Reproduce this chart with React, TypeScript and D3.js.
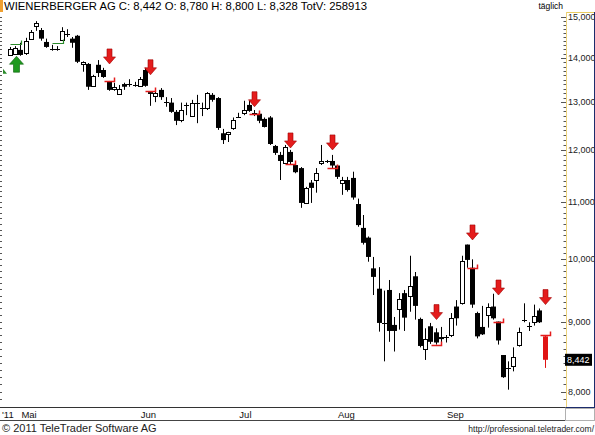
import * as d3 from 'd3';
import React, { useEffect, useRef } from 'react';

const title = 'WIENERBERGER AG C: 8,442 O: 8,780 H: 8,800 L: 8,328 TotV: 258913';
const period = 'täglich';
const yearLabel = "'11";
const copyright = '© 2011 TeleTrader Software AG';
const url = 'http://professional.teletrader.com/';

// daily candles [open, high, low, close]
const ohlc: [number, number, number, number][] = [
    [14.07, 14.26, 14.05, 14.21], [14.09, 14.28, 14.07, 14.24], [14.19, 14.36, 14.05, 14.07], [14.12, 14.48, 14.07, 14.41],
    [14.46, 14.67, 14.43, 14.62], [14.77, 14.89, 14.65, 14.84], [14.67, 14.72, 14.41, 14.46], [14.38, 14.46, 14.24, 14.26],
    [14.19, 14.31, 14.17, 14.21], [14.19, 14.28, 14.17, 14.20], [14.43, 14.74, 14.41, 14.65], [14.57, 14.69, 14.50, 14.58],
    [14.46, 14.50, 14.24, 14.36], [14.53, 14.55, 13.88, 13.91], [13.86, 13.92, 13.68, 13.91], [13.86, 13.88, 13.27, 13.34],
    [13.36, 13.61, 13.34, 13.58], [13.84, 13.95, 13.56, 13.65], [13.72, 13.77, 13.54, 13.56], [13.45, 13.47, 13.25, 13.27],
    [13.29, 13.43, 13.25, 13.34], [13.18, 13.38, 13.16, 13.29], [13.40, 13.43, 13.27, 13.34], [13.40, 13.51, 13.34, 13.41],
    [13.38, 13.45, 13.34, 13.38], [13.36, 13.56, 13.34, 13.51], [13.72, 13.77, 13.34, 13.36], [13.22, 13.24, 12.92, 13.18],
    [13.14, 13.27, 13.00, 13.20], [13.27, 13.31, 13.05, 13.11], [13.01, 13.11, 12.90, 13.00], [12.99, 13.09, 12.77, 12.79],
    [12.79, 12.83, 12.51, 12.60], [12.62, 12.99, 12.57, 12.83], [12.93, 12.99, 12.72, 12.94], [12.70, 13.05, 12.68, 12.99],
    [13.00, 13.16, 12.55, 12.98], [12.88, 12.99, 12.70, 12.88], [12.87, 13.22, 12.83, 13.20], [13.16, 13.20, 13.01, 13.05],
    [13.09, 13.11, 12.41, 12.45], [12.34, 12.43, 12.12, 12.20], [12.31, 12.37, 12.16, 12.36], [12.46, 12.67, 12.41, 12.62],
    [12.68, 12.77, 12.67, 12.69], [12.77, 13.03, 12.72, 12.83], [12.94, 13.03, 12.79, 12.81], [12.75, 12.83, 12.70, 12.77],
    [12.75, 12.81, 12.55, 12.60], [12.64, 12.67, 12.46, 12.47], [12.67, 12.70, 12.10, 12.12], [12.08, 12.10, 11.90, 11.94],
    [11.90, 11.96, 11.41, 11.78], [11.74, 12.10, 11.72, 12.06], [11.96, 12.00, 11.72, 11.76], [11.70, 11.74, 11.54, 11.56],
    [11.64, 11.66, 10.89, 10.98], [10.98, 11.28, 10.96, 11.26], [11.36, 11.41, 10.98, 11.26], [11.41, 11.64, 11.17, 11.55],
    [11.74, 12.10, 11.70, 11.77], [11.76, 11.80, 11.74, 11.78], [11.78, 11.90, 11.64, 11.69], [11.69, 11.70, 11.43, 11.47],
    [11.35, 11.47, 11.13, 11.41], [11.41, 11.47, 11.19, 11.22], [11.45, 11.57, 11.04, 11.08], [10.96, 11.06, 10.55, 10.58],
    [10.53, 10.76, 10.24, 10.27], [10.36, 10.38, 9.95, 10.03], [9.84, 10.03, 9.41, 9.70], [9.51, 9.86, 8.85, 8.98],
    [8.99, 9.48, 8.42, 8.98], [9.49, 9.65, 8.70, 8.86], [8.95, 9.07, 8.56, 8.86], [9.20, 9.44, 8.88, 9.35],
    [9.44, 9.49, 8.86, 9.06], [9.39, 10.05, 9.15, 9.55], [9.71, 9.78, 9.03, 9.24], [9.04, 9.06, 8.62, 8.64],
    [8.59, 8.90, 8.44, 8.74], [8.93, 8.98, 8.67, 8.70], [8.84, 8.90, 8.66, 8.69], [8.77, 8.92, 8.69, 8.74],
    [8.79, 8.80, 8.69, 8.77], [8.80, 9.13, 8.77, 9.06], [9.23, 9.33, 8.94, 9.05], [9.29, 10.05, 9.26, 9.97],
    [10.24, 10.24, 9.85, 9.98], [9.85, 9.99, 9.21, 9.26], [9.13, 9.15, 8.75, 8.78], [8.92, 9.24, 8.80, 8.81],
    [9.10, 9.28, 8.91, 9.22], [9.23, 9.43, 9.03, 9.05], [9.00, 9.00, 8.66, 8.72], [8.51, 8.51, 8.19, 8.20],
    [8.30, 8.42, 8.03, 8.32], [8.36, 8.62, 8.28, 8.48], [8.66, 8.91, 8.63, 8.85], [9.01, 9.28, 8.99, 9.02],
    [8.94, 8.99, 8.86, 8.93], [8.99, 9.26, 8.94, 9.08], [9.17, 9.20, 8.98, 8.99], [8.78, 8.80, 8.328, 8.442],
];

const lastClose = 8.442;
const yTicks = [8, 9, 10, 11, 12, 13, 14, 15];

const months = [
    { label: 'Mai', idx: 2 },
    { label: 'Jun', idx: 25 },
    { label: 'Jul', idx: 44 },
    { label: 'Aug', idx: 63 },
    { label: 'Sep', idx: 84 },
];

// sell signals: arrow tip price and stop line level
const sellSignals = [
    { idx: 19, tip: 13.86, level: 13.47 },
    { idx: 27, tip: 13.61, level: 13.24 },
    { idx: 47, tip: 12.9, level: 12.75 },
    { idx: 54, tip: 12.04, level: 11.72 },
    { idx: 62, tip: 12.0, level: 11.64 },
    { idx: 82, tip: 9.03, level: 8.66 },
    { idx: 89, tip: 10.32, level: 9.85 },
    { idx: 94, tip: 9.41, level: 9.0 },
    { idx: 103, tip: 9.26, level: 8.8 },
];

const buySignals = [{ idx: 1, tip: 14.04 }];
const buyLines = [
    { idx: 1, level: 14.33 },
    { idx: 9, level: 14.36 },
];
const entryMarker = 13.68;

const App: React.FC = () => {
    const svgRef = useRef<SVGSVGElement | null>(null);

    useEffect(() => {
        const plot = { left: 0, right: 565, top: 12, bottom: 407 };
        const font = '"Liberation Sans", Arial, sans-serif';

        const svg = d3.select(svgRef.current).html('');

        const x = d3.scaleLinear().domain([0, ohlc.length - 1]).range([10, 544.6]);
        const y = d3.scaleLog().domain([7.8, 15.12]).range([plot.bottom, plot.top]);
        const fmt = d3.formatLocale({ decimal: ',', thousands: '.', grouping: [3], currency: ['', ''] }).format('.3f');

        svg.append('rect').attr('width', 595).attr('height', 435).attr('fill', '#fff');

        // header
        svg.append('rect').attr('x', 0).attr('y', 0).attr('width', 3).attr('height', 12).attr('fill', '#f0a030');
        svg.append('text').attr('x', 4).attr('y', 10).attr('font-family', font).attr('font-size', 11.3)
            .attr('fill', '#000').text(title);
        svg.append('text').attr('x', 563).attr('y', 9).attr('text-anchor', 'end').attr('font-family', font)
            .attr('font-size', 8.5).attr('fill', '#000').text(period);

        // right axis panel
        const minor = d3.range(79, 152).map((v) => v / 10).filter((v) => y(v) > 13 && y(v) < 406);
        svg.append('line').attr('x1', 566).attr('x2', 595).attr('y1', 12.5).attr('y2', 12.5).attr('stroke', '#e8cc60');
        svg.append('line').attr('x1', 566.5).attr('x2', 566.5).attr('y1', 12).attr('y2', 407)
            .attr('stroke', '#ecd27a');
        svg.append('g').selectAll('line').data(minor).join('line')
            .attr('x1', (d) => (yTicks.includes(d) ? 561 : 563.5)).attr('x2', 566)
            .attr('y1', (d) => Math.round(y(d)) + 0.5).attr('y2', (d) => Math.round(y(d)) + 0.5)
            .attr('stroke', '#555');
        svg.append('g').selectAll('line').data(minor).join('line')
            .attr('x1', 0).attr('x2', 2)
            .attr('y1', (d) => Math.round(y(d)) + 0.5).attr('y2', (d) => Math.round(y(d)) + 0.5)
            .attr('stroke', '#555');
        svg.append('g').selectAll('text').data(yTicks).join('text')
            .attr('x', 568).attr('y', (d) => y(d)).attr('dy', '0.35em')
            .attr('font-family', font).attr('font-size', 9).attr('fill', '#222').text((d) => fmt(d));
        svg.append('line').attr('x1', 594.5).attr('x2', 594.5).attr('y1', 12).attr('y2', 408).attr('stroke', '#1c2c6c');
        svg.append('line').attr('x1', 565).attr('x2', 595).attr('y1', 407.5).attr('y2', 407.5).attr('stroke', '#1c2c6c');

        // last price box
        svg.append('rect').attr('x', 565).attr('y', y(lastClose) - 6).attr('width', 27).attr('height', 12).attr('fill', '#000');
        svg.append('text').attr('x', 567).attr('y', y(lastClose)).attr('dy', '0.35em').attr('font-family', font)
            .attr('font-size', 9).attr('fill', '#fff').text(fmt(lastClose));

        // date axis row
        svg.append('line').attr('x1', 0).attr('x2', 565).attr('y1', 407.5).attr('y2', 407.5).attr('stroke', '#333');
        svg.append('line').attr('x1', 0).attr('x2', 565).attr('y1', 420.5).attr('y2', 420.5).attr('stroke', '#444');
        svg.append('line').attr('x1', 565.5).attr('x2', 565.5).attr('y1', 407).attr('y2', 421).attr('stroke', '#666');
        svg.append('rect').attr('x', 565.5).attr('y', 408.5).attr('width', 29).attr('height', 12)
            .attr('fill', 'none').attr('stroke', '#b0b0b0');
        svg.append('text').attr('x', 2).attr('y', 417.5).attr('font-family', font).attr('font-size', 9.5)
            .attr('fill', '#111').text(yearLabel);
        svg.append('g').selectAll('text').data(months).join('text')
            .attr('x', (d) => x(d.idx) + 1).attr('y', 417.5).attr('font-family', font).attr('font-size', 9.5)
            .attr('fill', '#111').text((d) => d.label);

        // footer
        svg.append('text').attr('x', 2).attr('y', 432).attr('font-family', font).attr('font-size', 11)
            .attr('fill', '#222').text(copyright);
        svg.append('text').attr('x', 594).attr('y', 432).attr('text-anchor', 'end').attr('font-family', font)
            .attr('font-size', 8.5).attr('fill', '#222').text(url);

        // candles
        const cg = svg.append('g');
        ohlc.forEach(([o, h, l, c], i) => {
            const px = Math.round(x(i));
            const col = i === ohlc.length - 1 ? '#e01414' : '#000';
            cg.append('line').attr('x1', px + 0.5).attr('x2', px + 0.5).attr('y1', y(h)).attr('y2', y(l))
                .attr('stroke', col);
            const top = y(Math.max(o, c));
            const bot = y(Math.min(o, c));
            if (bot - top < 1.5) {
                cg.append('line').attr('x1', px - 2).attr('x2', px + 3)
                    .attr('y1', Math.round(y(c)) + 0.5).attr('y2', Math.round(y(c)) + 0.5).attr('stroke', col);
            } else if (c > o) {
                cg.append('rect').attr('x', px - 1.5).attr('y', Math.round(top) + 0.5).attr('width', 4)
                    .attr('height', Math.max(1, Math.round(bot - top))).attr('fill', '#fff').attr('stroke', col);
            } else {
                cg.append('rect').attr('x', px - 2).attr('y', top).attr('width', 5).attr('height', bot - top)
                    .attr('fill', col);
            }
        });

        // sell signals
        const sg = svg.append('g');
        sellSignals.forEach((s) => {
            const cx = Math.round(x(s.idx)) + 0.5;
            const t = y(s.tip);
            sg.append('path')
                .attr('d', `M${cx},${t} L${cx - 6},${t - 7} L${cx - 2.5},${t - 7} L${cx - 2.5},${t - 15} L${cx + 2.5},${t - 15} L${cx + 2.5},${t - 7} L${cx + 6},${t - 7} Z`)
                .attr('fill', '#e41c1c').attr('stroke', '#a00000').attr('stroke-width', 0.6);
            const ly = Math.round(y(s.level)) + 0.5;
            sg.append('path').attr('d', `M${cx - 5},${ly} L${cx + 5},${ly} L${cx + 5},${ly - 4}`)
                .attr('fill', 'none').attr('stroke', '#e41c1c').attr('stroke-width', 1.5);
        });

        // buy signals
        buySignals.forEach((s) => {
            const cx = Math.round(x(s.idx)) + 1.5;
            const t = y(s.tip);
            sg.append('path')
                .attr('d', `M${cx},${t} L${cx - 7},${t + 8} L${cx - 3},${t + 8} L${cx - 3},${t + 16} L${cx + 3},${t + 16} L${cx + 3},${t + 8} L${cx + 7},${t + 8} Z`)
                .attr('fill', '#1f9a1f').attr('stroke', '#0b5e0b').attr('stroke-width', 0.6);
        });
        buyLines.forEach((s) => {
            const cx = Math.round(x(s.idx)) + 0.5;
            const ly = Math.round(y(s.level)) + 0.5;
            sg.append('path').attr('d', `M${cx - 5},${ly} L${cx + 6},${ly} L${cx + 6},${ly - 4}`)
                .attr('fill', 'none').attr('stroke', '#2a8a2a').attr('stroke-width', 1.2);
        });
        const em = y(entryMarker);
        sg.append('path').attr('d', `M3,${em - 3} L7,${em + 2} L3,${em + 2} Z`).attr('fill', '#2a8a2a');
    }, []);

    return (
        <svg ref={svgRef} width={595} height={435} style={{ position: 'absolute', left: 0, top: 0 }}></svg>
    );
};

export default App;
